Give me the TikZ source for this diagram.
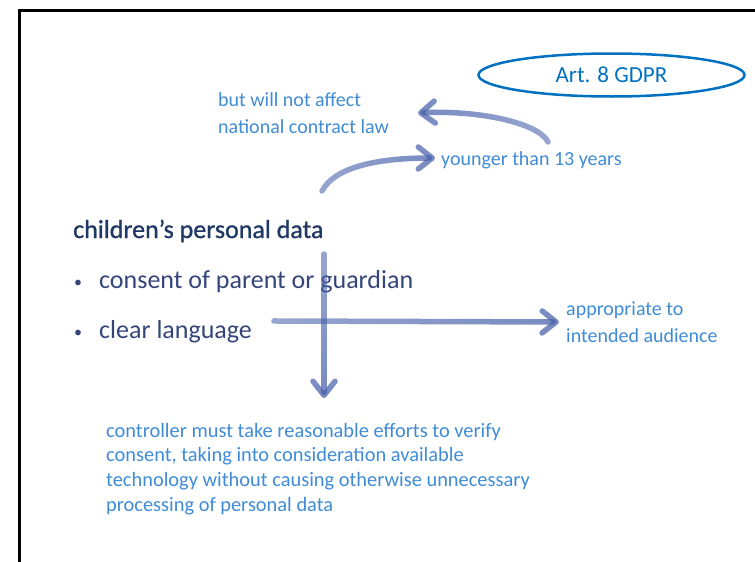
\documentclass[tikz,border=0pt]{standalone}
\usepackage{fontspec}
\setmainfont{Carlito}
\newfontfamily\headingfont[FakeBold=0.9]{Carlito}
\usetikzlibrary{arrows.meta,fadings,shapes.geometric}

\definecolor{ovalblue}{HTML}{0070C0}
\definecolor{noteblue}{HTML}{3F8BD6}
\definecolor{headnavy}{HTML}{1F3864}
\definecolor{bodyslate}{HTML}{34457A}
\definecolor{flowblue}{HTML}{4760AA}

% opacity ramps for the gradient arrows (black = clear, white = opaque)
\pgfdeclarehorizontalshading{rampE}{100bp}{color(0bp)=(black!70); color(100bp)=(white)}
\pgfdeclarehorizontalshading{rampW}{100bp}{color(0bp)=(white); color(100bp)=(black!70)}
\pgfdeclareverticalshading{rampS}{100bp}{color(0bp)=(white); color(100bp)=(black!70)}
\begin{tikzfadingfrompicture}[name=fadeE]
  \shade[shading=rampE] (-50bp,-50bp) rectangle (50bp,50bp);
\end{tikzfadingfrompicture}
\begin{tikzfadingfrompicture}[name=fadeW]
  \shade[shading=rampW] (-50bp,-50bp) rectangle (50bp,50bp);
\end{tikzfadingfrompicture}
\begin{tikzfadingfrompicture}[name=fadeS]
  \shade[shading=rampS] (-50bp,-50bp) rectangle (50bp,50bp);
\end{tikzfadingfrompicture}

\tikzset{
  note/.style={inner sep=0pt, text=noteblue, align=left,
    font=\fontsize{20}{26.7}\selectfont},
  para/.style={inner sep=0pt, text=noteblue, align=left,
    font=\fontsize{20.4}{24.6}\selectfont},
  heading/.style={inner sep=0pt, text=headnavy, font=\headingfont\fontsize{26}{30}\selectfont},
  bullettext/.style={inner sep=0pt, text=bodyslate, font=\fontsize{26}{30}\selectfont},
  bulletdot/.style={inner sep=0pt, text=bodyslate, font=\fontsize{16}{20}\selectfont},
  oval/.style={ellipse, draw=ovalblue, line width=2.5pt, inner sep=0pt,
    minimum width=266pt, minimum height=43pt, text=ovalblue,
    font=\fontsize{23}{28}\selectfont},
  flow/.style={draw=flowblue, line width=5.5pt, line cap=round,
    -{Straight Barb[length=14pt, width=22pt, line width=5.5pt, round]}},
}

\begin{document}
\begin{tikzpicture}[x=1pt, y=-1pt]
  \useasboundingbox (0,0) rectangle (755,562);
  \clip (0,0) rectangle (755,562);

  % slide frame
  \draw[line width=3pt, black] (19,600) -- (19,10) -- (800,10);

  % label in the oval
  \node[oval] (gdpr) at (611.5,75) {Art. 8 GDPR};

  % notes (base anchor sits on the last line)
  \node[note, anchor=base west] (law) at (218,133) {but will not affect\\national contract law};
  \node[note, anchor=base west] (young) at (441,165) {younger than 13 years};
  \node[note, anchor=base west] (aud) at (566,342) {appropriate to\\intended audience};
  \node[para, anchor=base west] (ctrl) at (106,511)
    {controller must take reasonable efforts to verify\\
     consent, taking into consideration available\\
     technology without causing otherwise unnecessary\\
     processing of personal data};

  % heading and bullets
  \node[heading, anchor=base west] (head) at (73,238) {children’s personal data};
  \node[bulletdot, anchor=base] (b1) at (78,287) {\textbullet};
  \node[bullettext, anchor=base west] (consent) at (99,288) {consent of parent or guardian};
  \node[bulletdot, anchor=base] (b2) at (78,337) {\textbullet};
  \node[bullettext, anchor=base west] (clear) at (99,338) {clear language};

  % arrow end points
  \coordinate (a1s) at (548,142);
  \coordinate (a1e) at (418,113);
  \coordinate (a2s) at (322,191);
  \coordinate (a2e) at (435,158);
  \coordinate (hs) at (274,321);
  \coordinate (he) at (559,322);
  \coordinate (vs) at (324,254);
  \coordinate (ve) at (324,398);

  % gradient arrows; the leading move-tos widen the area the fading covers
  \draw[flow, path fading=fadeW] (480,90) (480,150)
    (a1s) .. controls (538,122) and (475,110) .. (a1e);
  \draw[flow, path fading=fadeE] (380,135) (380,200)
    (a2s) .. controls (334,168) and (375,158) .. (a2e);
  \draw[flow, path fading=fadeE] (416,295) (416,348) (hs) -- (he);
  \draw[flow, path fading=fadeS] (298,326) (350,326) (vs) -- (ve);
\end{tikzpicture}
\end{document}
